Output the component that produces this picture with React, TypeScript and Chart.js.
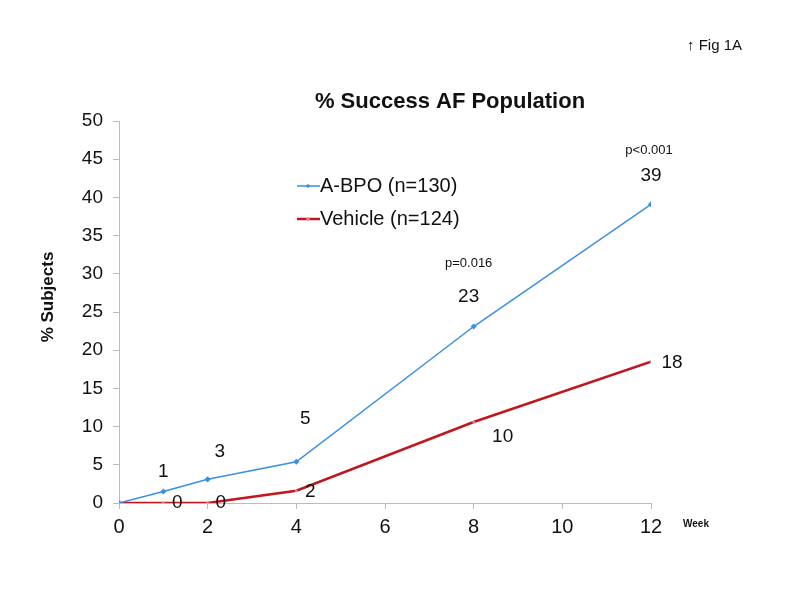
import React, { useEffect, useRef } from "react";
import { Chart, registerables } from "chart.js";

Chart.register(...registerables);

const weeks = [0, 1, 2, 4, 8, 12];
const abpoValues = [0, 1.5, 3.1, 5.4, 23.1, 39.1];
const vehicleValues = [0, 0, 0, 1.6, 10.6, 18.5];
const abpoLabels = ["", "1", "3", "5", "23", "39"];
const vehicleLabels = ["", "0", "0", "2", "10", "18"];
const pValueTexts = ["p=0.016", "p<0.001"];
const pValueWeeks = [8, 12];
const pValueLevels = [31.3, 46.2];
const seriesNames = ["A-BPO (n=130)", "Vehicle (n=124)"];
const xTicks = [0, 2, 4, 6, 8, 10, 12];

const BLUE = "#3b8ee6";
const RED = "#c0161d";
const FONT = "'Liberation Sans', Arial, sans-serif";

// pixel offsets of value labels relative to their points (style only)
const abpoOffsets = [[0, 0], [0, -20], [12, -28], [9, -43], [-5, -30], [0, -29]];
const vehicleOffsets = [[0, 0], [14, 0], [13, 0], [14, 1], [29, 15], [21, 1]];
const pOffsetX = [-5, -2];

const annotPlugin = {
  id: "annot",
  afterDatasetsDraw(chart: any) {
    const ctx = chart.ctx;
    const xs = chart.scales.x;
    const ys = chart.scales.y;
    ctx.save();
    ctx.fillStyle = "#111";
    ctx.textAlign = "center";
    ctx.textBaseline = "middle";
    ctx.font = `19px ${FONT}`;
    weeks.forEach((w, i) => {
      if (abpoLabels[i]) {
        ctx.fillText(abpoLabels[i], xs.getPixelForValue(w) + abpoOffsets[i][0], ys.getPixelForValue(abpoValues[i]) + abpoOffsets[i][1]);
      }
      if (vehicleLabels[i]) {
        ctx.fillText(vehicleLabels[i], xs.getPixelForValue(w) + vehicleOffsets[i][0], ys.getPixelForValue(vehicleValues[i]) + vehicleOffsets[i][1]);
      }
    });
    ctx.font = `13px ${FONT}`;
    pValueTexts.forEach((t, i) => {
      ctx.fillText(t, xs.getPixelForValue(pValueWeeks[i]) + pOffsetX[i], ys.getPixelForValue(pValueLevels[i]));
    });
    // title
    ctx.font = `bold 22px ${FONT}`;
    ctx.fillText("% Success AF Population", 450, 102);
    // fig label
    ctx.font = `15px ${FONT}`;
    ctx.textAlign = "left";
    ctx.fillText("↑ Fig 1A", 687, 46);
    // week label
    ctx.font = `bold 10px ${FONT}`;
    ctx.fillText("Week", 683, 524);
    // y title
    ctx.save();
    ctx.translate(48, 297);
    ctx.rotate(-Math.PI / 2);
    ctx.textAlign = "center";
    ctx.font = `bold 17px ${FONT}`;
    ctx.fillText("% Subjects", 0, 0);
    ctx.restore();
    // legend
    const legendColors = [BLUE, RED];
    const legendWidths = [1.5, 2.5];
    seriesNames.forEach((n, i) => {
      const y = 186 + i * 33;
      ctx.strokeStyle = legendColors[i];
      ctx.lineWidth = legendWidths[i];
      ctx.beginPath();
      ctx.moveTo(297, y);
      ctx.lineTo(320, y);
      ctx.stroke();
      ctx.fillStyle = i === 0 ? BLUE : "#d88";
      ctx.beginPath();
      ctx.arc(308, y, 1.8, 0, Math.PI * 2);
      ctx.fill();
      ctx.fillStyle = "#111";
      ctx.font = `20px ${FONT}`;
      ctx.textAlign = "left";
      ctx.fillText(n, 320, y);
    });
    ctx.restore();
  },
};

export default function App() {
  const ref = useRef<HTMLCanvasElement>(null);
  useEffect(() => {
    if (!ref.current) return;
    const chart = new Chart(ref.current, {
      type: "line",
      data: {
        datasets: [
          {
            label: seriesNames[0],
            data: weeks.map((w, i) => ({ x: w, y: abpoValues[i] })),
            borderColor: BLUE,
            backgroundColor: BLUE,
            borderWidth: 1.5,
            pointRadius: 2,
            pointStyle: "rectRot",
          },
          {
            label: seriesNames[1],
            data: weeks.map((w, i) => ({ x: w, y: vehicleValues[i] })),
            borderColor: RED,
            backgroundColor: "#d88",
            borderColor2: RED,
            borderWidth: 2.5,
            pointRadius: 1.5,
            pointBorderWidth: 0,
          },
        ],
      },
      options: {
        animation: false,
        responsive: false,
        layout: { padding: { top: 121, right: 149, bottom: 37, left: 0 } },
        plugins: { legend: { display: false }, tooltip: { enabled: false } },
        scales: {
          x: {
            type: "linear",
            min: 0,
            max: 12,
            afterBuildTicks: (s: any) => {
              s.ticks = xTicks.map((v) => ({ value: v }));
            },
            afterFit: (s: any) => {
              s.height = 60;
            },
            grid: { drawOnChartArea: false, tickLength: 6, color: "#bbb" },
            border: { color: "#bbb" },
            ticks: { color: "#111", font: { family: FONT, size: 20 }, padding: 6 },
          },
          y: {
            min: 0,
            max: 50,
            afterFit: (s: any) => {
              s.width = 119;
            },
            grid: { drawOnChartArea: false, tickLength: 6, color: "#bbb" },
            border: { color: "#bbb" },
            ticks: { stepSize: 5, color: "#111", font: { family: FONT, size: 19 }, padding: 10 },
          },
        },
      },
      plugins: [annotPlugin],
    } as any);
    return () => chart.destroy();
  }, []);
  return (
    <div style={{ position: "fixed", left: 0, top: 0, width: 800, height: 600, background: "#fff" }}>
      <canvas ref={ref} width={800} height={600} style={{ width: 800, height: 600 }} />
    </div>
  );
}
